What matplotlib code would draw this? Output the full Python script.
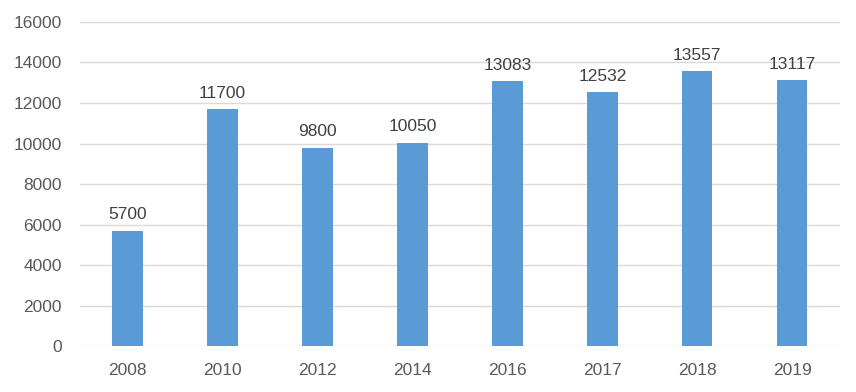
import matplotlib
matplotlib.use("Agg")
import matplotlib.pyplot as plt

years = ["2008", "2010", "2012", "2014", "2016", "2017", "2018", "2019"]
values = [5700, 11700, 9800, 10050, 13083, 12532, 13557, 13117]
yticks = [0, 2000, 4000, 6000, 8000, 10000, 12000, 14000, 16000]

plt.rcParams['font.family'] = ['Liberation Sans', 'DejaVu Sans']
fig = plt.figure(figsize=(8.56, 3.92), dpi=100)
ax = fig.add_axes([0.0935, 0.117, 0.8875, 0.827])
x = range(len(years))
ax.bar(x, values, width=0.32, color="#5B9BD5", zorder=3)
for xi, v in zip(x, values):
    ax.text(xi, v + 420, str(v), ha="center", va="bottom", fontsize=12.5, color="#404040")
ax.set_xlim(-0.5, len(years) - 0.5)
ax.set_ylim(0, 16000)
ax.set_yticks(yticks)
ax.set_yticklabels([str(t) for t in yticks])
ax.set_xticks(list(x))
ax.set_xticklabels(years)
ax.grid(axis="y", color="#D9D9D9", linewidth=1, zorder=0)
for s in ax.spines.values():
    s.set_visible(False)
ax.tick_params(axis="both", length=0, labelsize=12.5, labelcolor="#595959")
ax.tick_params(axis="y", pad=13)
ax.tick_params(axis="x", pad=12)
fig.savefig("out.png", dpi=100)
